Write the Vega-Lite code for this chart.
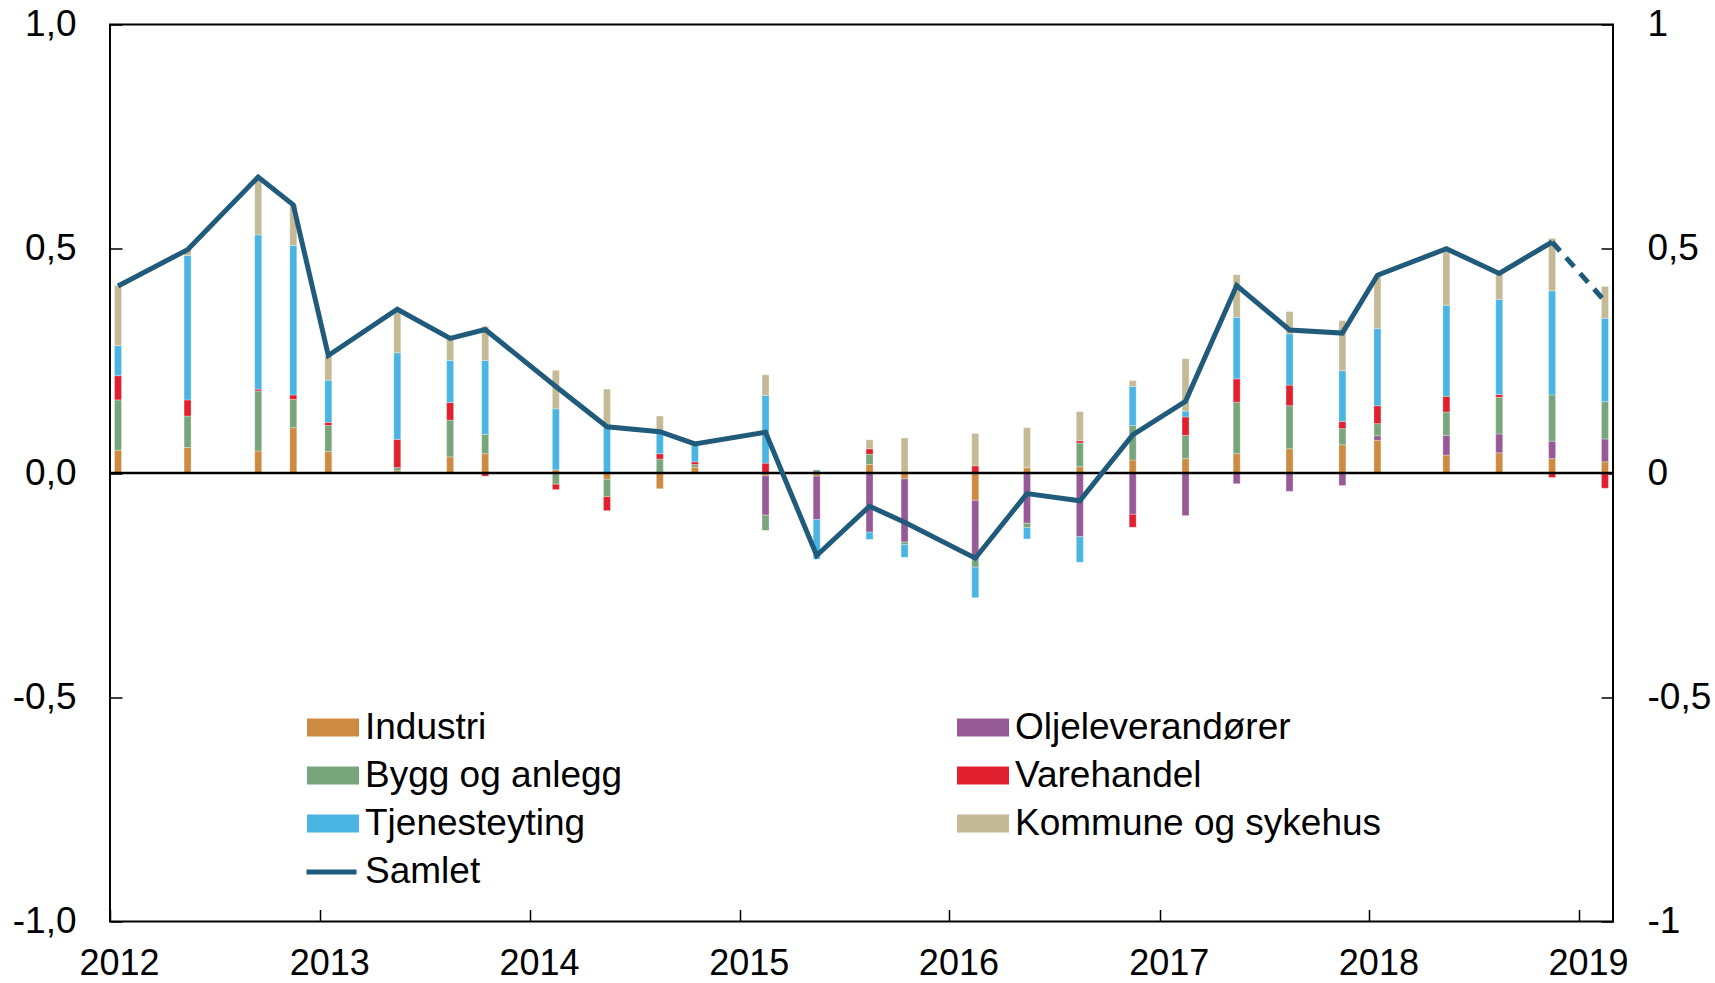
{
"$schema": "https://vega.github.io/schema/vega-lite/v6.json",
"width": 1503, "height": 897,
"autosize": "none",
"padding": {"left": 110, "top": 24.5, "right": 102, "bottom": 61.5},
"background": "white",
"config": {
  "view": {"stroke": "black", "strokeWidth": 2},
  "font": "Liberation Sans",
  "axis": {"domain": false, "grid": false, "tickColor": "black", "tickSize": -12, "tickWidth": 1.5, "labelFont": "Liberation Sans", "labelFontSize": 37, "labelColor": "black", "title": null, "labelFlush": false, "labelOverlap": false}
},
"datasets": {
"sektor": [
{"d":"2012-01-15","s":"Industri","v":0.051,"k":1},{"d":"2012-01-15","s":"Bygg og anlegg","v":0.112,"k":3},{"d":"2012-01-15","s":"Varehandel","v":0.054,"k":4},{"d":"2012-01-15","s":"Tjenesteyting","v":0.067,"k":5},{"d":"2012-01-15","s":"Kommune og sykehus","v":0.134,"k":6},
{"d":"2012-05-15","s":"Industri","v":0.057,"k":1},{"d":"2012-05-15","s":"Bygg og anlegg","v":0.070,"k":3},{"d":"2012-05-15","s":"Varehandel","v":0.036,"k":4},{"d":"2012-05-15","s":"Tjenesteyting","v":0.322,"k":5},{"d":"2012-05-15","s":"Kommune og sykehus","v":0.013,"k":6},
{"d":"2012-09-15","s":"Industri","v":0.049,"k":1},{"d":"2012-09-15","s":"Bygg og anlegg","v":0.134,"k":3},{"d":"2012-09-15","s":"Varehandel","v":0.004,"k":4},{"d":"2012-09-15","s":"Tjenesteyting","v":0.344,"k":5},{"d":"2012-09-15","s":"Kommune og sykehus","v":0.128,"k":6},
{"d":"2012-11-15","s":"Industri","v":0.101,"k":1},{"d":"2012-11-15","s":"Bygg og anlegg","v":0.063,"k":3},{"d":"2012-11-15","s":"Varehandel","v":0.010,"k":4},{"d":"2012-11-15","s":"Tjenesteyting","v":0.333,"k":5},{"d":"2012-11-15","s":"Kommune og sykehus","v":0.091,"k":6},
{"d":"2013-01-15","s":"Industri","v":0.048,"k":1},{"d":"2013-01-15","s":"Bygg og anlegg","v":0.058,"k":3},{"d":"2013-01-15","s":"Varehandel","v":0.007,"k":4},{"d":"2013-01-15","s":"Tjenesteyting","v":0.094,"k":5},{"d":"2013-01-15","s":"Kommune og sykehus","v":0.055,"k":6},
{"d":"2013-05-15","s":"Industri","v":0.005,"k":1},{"d":"2013-05-15","s":"Bygg og anlegg","v":0.007,"k":3},{"d":"2013-05-15","s":"Varehandel","v":0.063,"k":4},{"d":"2013-05-15","s":"Tjenesteyting","v":0.193,"k":5},{"d":"2013-05-15","s":"Kommune og sykehus","v":0.097,"k":6},
{"d":"2013-08-15","s":"Industri","v":0.036,"k":1},{"d":"2013-08-15","s":"Bygg og anlegg","v":0.082,"k":3},{"d":"2013-08-15","s":"Varehandel","v":0.039,"k":4},{"d":"2013-08-15","s":"Tjenesteyting","v":0.094,"k":5},{"d":"2013-08-15","s":"Kommune og sykehus","v":0.048,"k":6},
{"d":"2013-10-15","s":"Industri","v":0.043,"k":1},{"d":"2013-10-15","s":"Bygg og anlegg","v":0.043,"k":3},{"d":"2013-10-15","s":"Varehandel","v":-0.007,"k":4},{"d":"2013-10-15","s":"Tjenesteyting","v":0.165,"k":5},{"d":"2013-10-15","s":"Kommune og sykehus","v":0.076,"k":6},
{"d":"2014-02-15","s":"Industri","v":0.007,"k":1},{"d":"2014-02-15","s":"Bygg og anlegg","v":-0.025,"k":3},{"d":"2014-02-15","s":"Varehandel","v":-0.012,"k":4},{"d":"2014-02-15","s":"Tjenesteyting","v":0.136,"k":5},{"d":"2014-02-15","s":"Kommune og sykehus","v":0.086,"k":6},
{"d":"2014-05-15","s":"Industri","v":-0.014,"k":1},{"d":"2014-05-15","s":"Bygg og anlegg","v":-0.039,"k":3},{"d":"2014-05-15","s":"Varehandel","v":-0.031,"k":4},{"d":"2014-05-15","s":"Tjenesteyting","v":0.107,"k":5},{"d":"2014-05-15","s":"Kommune og sykehus","v":0.080,"k":6},
{"d":"2014-08-15","s":"Industri","v":-0.035,"k":1},{"d":"2014-08-15","s":"Bygg og anlegg","v":0.031,"k":3},{"d":"2014-08-15","s":"Varehandel","v":0.012,"k":4},{"d":"2014-08-15","s":"Tjenesteyting","v":0.051,"k":5},{"d":"2014-08-15","s":"Kommune og sykehus","v":0.033,"k":6},
{"d":"2014-10-15","s":"Industri","v":0.013,"k":1},{"d":"2014-10-15","s":"Bygg og anlegg","v":0.006,"k":3},{"d":"2014-10-15","s":"Varehandel","v":0.006,"k":4},{"d":"2014-10-15","s":"Tjenesteyting","v":0.040,"k":5},
{"d":"2015-02-15","s":"Industri","v":-0.006,"k":1},{"d":"2015-02-15","s":"Oljeleverandører","v":-0.088,"k":2},{"d":"2015-02-15","s":"Bygg og anlegg","v":-0.034,"k":3},{"d":"2015-02-15","s":"Varehandel","v":0.022,"k":4},{"d":"2015-02-15","s":"Tjenesteyting","v":0.151,"k":5},{"d":"2015-02-15","s":"Kommune og sykehus","v":0.046,"k":6},
{"d":"2015-05-15","s":"Industri","v":-0.007,"k":1},{"d":"2015-05-15","s":"Oljeleverandører","v":-0.097,"k":2},{"d":"2015-05-15","s":"Bygg og anlegg","v":0.007,"k":3},{"d":"2015-05-15","s":"Tjenesteyting","v":-0.088,"k":5},
{"d":"2015-08-15","s":"Industri","v":0.019,"k":1},{"d":"2015-08-15","s":"Oljeleverandører","v":-0.132,"k":2},{"d":"2015-08-15","s":"Bygg og anlegg","v":0.023,"k":3},{"d":"2015-08-15","s":"Varehandel","v":0.012,"k":4},{"d":"2015-08-15","s":"Tjenesteyting","v":-0.016,"k":5},{"d":"2015-08-15","s":"Kommune og sykehus","v":0.020,"k":6},
{"d":"2015-10-15","s":"Industri","v":-0.013,"k":1},{"d":"2015-10-15","s":"Oljeleverandører","v":-0.141,"k":2},{"d":"2015-10-15","s":"Bygg og anlegg","v":-0.006,"k":3},{"d":"2015-10-15","s":"Tjenesteyting","v":-0.028,"k":5},{"d":"2015-10-15","s":"Kommune og sykehus","v":0.078,"k":6},
{"d":"2016-02-15","s":"Industri","v":-0.061,"k":1},{"d":"2016-02-15","s":"Oljeleverandører","v":-0.133,"k":2},{"d":"2016-02-15","s":"Bygg og anlegg","v":-0.016,"k":3},{"d":"2016-02-15","s":"Varehandel","v":0.016,"k":4},{"d":"2016-02-15","s":"Tjenesteyting","v":-0.068,"k":5},{"d":"2016-02-15","s":"Kommune og sykehus","v":0.072,"k":6},
{"d":"2016-05-15","s":"Industri","v":0.012,"k":1},{"d":"2016-05-15","s":"Oljeleverandører","v":-0.112,"k":2},{"d":"2016-05-15","s":"Bygg og anlegg","v":-0.010,"k":3},{"d":"2016-05-15","s":"Tjenesteyting","v":-0.025,"k":5},{"d":"2016-05-15","s":"Kommune og sykehus","v":0.089,"k":6},
{"d":"2016-08-15","s":"Industri","v":0.014,"k":1},{"d":"2016-08-15","s":"Oljeleverandører","v":-0.142,"k":2},{"d":"2016-08-15","s":"Bygg og anlegg","v":0.053,"k":3},{"d":"2016-08-15","s":"Varehandel","v":0.005,"k":4},{"d":"2016-08-15","s":"Tjenesteyting","v":-0.057,"k":5},{"d":"2016-08-15","s":"Kommune og sykehus","v":0.065,"k":6},
{"d":"2016-11-15","s":"Industri","v":0.029,"k":1},{"d":"2016-11-15","s":"Oljeleverandører","v":-0.092,"k":2},{"d":"2016-11-15","s":"Bygg og anlegg","v":0.077,"k":3},{"d":"2016-11-15","s":"Varehandel","v":-0.029,"k":4},{"d":"2016-11-15","s":"Tjenesteyting","v":0.087,"k":5},{"d":"2016-11-15","s":"Kommune og sykehus","v":0.013,"k":6},
{"d":"2017-02-15","s":"Industri","v":0.032,"k":1},{"d":"2017-02-15","s":"Oljeleverandører","v":-0.095,"k":2},{"d":"2017-02-15","s":"Bygg og anlegg","v":0.052,"k":3},{"d":"2017-02-15","s":"Varehandel","v":0.041,"k":4},{"d":"2017-02-15","s":"Tjenesteyting","v":0.013,"k":5},{"d":"2017-02-15","s":"Kommune og sykehus","v":0.117,"k":6},
{"d":"2017-05-15","s":"Industri","v":0.043,"k":1},{"d":"2017-05-15","s":"Oljeleverandører","v":-0.024,"k":2},{"d":"2017-05-15","s":"Bygg og anlegg","v":0.115,"k":3},{"d":"2017-05-15","s":"Varehandel","v":0.052,"k":4},{"d":"2017-05-15","s":"Tjenesteyting","v":0.137,"k":5},{"d":"2017-05-15","s":"Kommune og sykehus","v":0.095,"k":6},
{"d":"2017-08-15","s":"Industri","v":0.054,"k":1},{"d":"2017-08-15","s":"Oljeleverandører","v":-0.041,"k":2},{"d":"2017-08-15","s":"Bygg og anlegg","v":0.096,"k":3},{"d":"2017-08-15","s":"Varehandel","v":0.046,"k":4},{"d":"2017-08-15","s":"Tjenesteyting","v":0.114,"k":5},{"d":"2017-08-15","s":"Kommune og sykehus","v":0.050,"k":6},
{"d":"2017-11-15","s":"Industri","v":0.063,"k":1},{"d":"2017-11-15","s":"Oljeleverandører","v":-0.028,"k":2},{"d":"2017-11-15","s":"Bygg og anlegg","v":0.036,"k":3},{"d":"2017-11-15","s":"Varehandel","v":0.016,"k":4},{"d":"2017-11-15","s":"Tjenesteyting","v":0.113,"k":5},{"d":"2017-11-15","s":"Kommune og sykehus","v":0.112,"k":6},
{"d":"2018-01-15","s":"Industri","v":0.073,"k":1},{"d":"2018-01-15","s":"Oljeleverandører","v":0.010,"k":2},{"d":"2018-01-15","s":"Bygg og anlegg","v":0.027,"k":3},{"d":"2018-01-15","s":"Varehandel","v":0.040,"k":4},{"d":"2018-01-15","s":"Tjenesteyting","v":0.172,"k":5},{"d":"2018-01-15","s":"Kommune og sykehus","v":0.119,"k":6},
{"d":"2018-05-15","s":"Industri","v":0.040,"k":1},{"d":"2018-05-15","s":"Oljeleverandører","v":0.044,"k":2},{"d":"2018-05-15","s":"Bygg og anlegg","v":0.052,"k":3},{"d":"2018-05-15","s":"Varehandel","v":0.035,"k":4},{"d":"2018-05-15","s":"Tjenesteyting","v":0.203,"k":5},{"d":"2018-05-15","s":"Kommune og sykehus","v":0.124,"k":6},
{"d":"2018-08-15","s":"Industri","v":0.045,"k":1},{"d":"2018-08-15","s":"Oljeleverandører","v":0.042,"k":2},{"d":"2018-08-15","s":"Bygg og anlegg","v":0.082,"k":3},{"d":"2018-08-15","s":"Varehandel","v":0.006,"k":4},{"d":"2018-08-15","s":"Tjenesteyting","v":0.212,"k":5},{"d":"2018-08-15","s":"Kommune og sykehus","v":0.057,"k":6},
{"d":"2018-11-15","s":"Industri","v":0.032,"k":1},{"d":"2018-11-15","s":"Oljeleverandører","v":0.039,"k":2},{"d":"2018-11-15","s":"Bygg og anlegg","v":0.103,"k":3},{"d":"2018-11-15","s":"Varehandel","v":-0.010,"k":4},{"d":"2018-11-15","s":"Tjenesteyting","v":0.232,"k":5},{"d":"2018-11-15","s":"Kommune og sykehus","v":0.117,"k":6},
{"d":"2019-02-15","s":"Industri","v":0.025,"k":1},{"d":"2019-02-15","s":"Oljeleverandører","v":0.051,"k":2},{"d":"2019-02-15","s":"Bygg og anlegg","v":0.083,"k":3},{"d":"2019-02-15","s":"Varehandel","v":-0.034,"k":4},{"d":"2019-02-15","s":"Tjenesteyting","v":0.186,"k":5},{"d":"2019-02-15","s":"Kommune og sykehus","v":0.071,"k":6}
],
"samlet": [
{"n":1,"d":"2012-01-15","v":0.417},{"n":2,"d":"2012-05-15","v":0.498},{"n":3,"d":"2012-09-15","v":0.660},{"n":4,"d":"2012-11-15","v":0.598},
{"n":5,"d":"2013-01-15","v":0.262},{"n":6,"d":"2013-05-15","v":0.365},{"n":7,"d":"2013-08-15","v":0.300},{"n":8,"d":"2013-10-15","v":0.320},
{"n":9,"d":"2014-02-15","v":0.193},{"n":10,"d":"2014-05-15","v":0.103},{"n":11,"d":"2014-08-15","v":0.092},{"n":12,"d":"2014-10-15","v":0.065},
{"n":13,"d":"2015-02-15","v":0.091},{"n":14,"d":"2015-05-15","v":-0.184},{"n":15,"d":"2015-08-15","v":-0.074},{"n":16,"d":"2015-10-15","v":-0.110},
{"n":17,"d":"2016-02-15","v":-0.190},{"n":18,"d":"2016-05-15","v":-0.046},{"n":19,"d":"2016-08-15","v":-0.062},{"n":20,"d":"2016-11-15","v":0.085},
{"n":21,"d":"2017-02-15","v":0.160},{"n":22,"d":"2017-05-15","v":0.418},{"n":23,"d":"2017-08-15","v":0.319},{"n":24,"d":"2017-11-15","v":0.312},
{"n":25,"d":"2018-01-15","v":0.441},{"n":26,"d":"2018-05-15","v":0.500},{"n":27,"d":"2018-08-15","v":0.445},{"n":28,"d":"2018-11-15","v":0.515},
{"n":29,"d":"2019-02-15","v":0.383}
]
},
"layer": [
{
  "data": {"name": "sektor"},
  "mark": {"type": "bar", "size": 7, "stroke": "white", "strokeWidth": 0.5, "strokeOpacity": 0.6},
  "encoding": {
    "x": {"field": "d", "type": "temporal",
      "scale": {"type": "utc", "padding": 0, "domain": [{"year": 2012, "month": 1, "date": 1, "utc": true}, {"year": 2019, "month": 3, "date": 1, "utc": true}]},
      "axis": {"values": [{"year": 2012, "month": 1, "date": 1, "utc": true},{"year": 2013, "month": 1, "date": 1, "utc": true},{"year": 2014, "month": 1, "date": 1, "utc": true},{"year": 2015, "month": 1, "date": 1, "utc": true},{"year": 2016, "month": 1, "date": 1, "utc": true},{"year": 2017, "month": 1, "date": 1, "utc": true},{"year": 2018, "month": 1, "date": 1, "utc": true},{"year": 2019, "month": 1, "date": 1, "utc": true}],
        "format": "%Y", "labelOffset": 9, "labelPadding": 37, "labelFontSize": 36}},
    "y": {"field": "v", "type": "quantitative", "stack": "zero",
      "scale": {"domain": [-1, 1], "nice": false, "zero": false},
      "axis": {"orient": "left", "values": [-1, -0.5, 0, 0.5, 1], "labelPadding": 46,
        "labelExpr": "(datum.value < 0 ? '-' : '') + replace(format(abs(datum.value), '.1f'), '.', ',')"}},
    "color": {"field": "s", "type": "nominal",
      "scale": {"domain": ["Industri", "Oljeleverandører", "Bygg og anlegg", "Varehandel", "Tjenesteyting", "Kommune og sykehus"],
                "range": ["#cd8b41", "#965b97", "#78a57b", "#e0202f", "#4ab4e2", "#c4ba96"]},
      "legend": {"orient": "none", "legendX": 197, "legendY": 677, "columns": 2, "direction": "horizontal", "title": null,
        "symbolType": "M-1,-0.35H1V0.35H-1Z", "symbolSize": 2704, "symbolStrokeWidth": 0, "symbolOpacity": 1,
        "labelFont": "Liberation Sans", "labelFontSize": 37, "labelColor": "black", "labelOffset": 6, "labelLimit": 0,
        "rowPadding": 4, "columnPadding": 334, "gridAlign": "each", "padding": 0}},
    "order": {"field": "k", "type": "quantitative", "sort": "ascending"}
  }
},
{
  "data": {"values": [{}]},
  "mark": {"type": "rule", "color": "black", "strokeWidth": 2.5},
  "encoding": {
    "y": {"datum": 0, "type": "quantitative", "scale": {"domain": [-1, 1], "nice": false, "zero": false},
      "axis": {"orient": "right", "values": [-1, -0.5, 0, 0.5, 1], "labelPadding": 46,
        "labelExpr": "(datum.value < 0 ? '-' : '') + replace(format(abs(datum.value), '~g'), '.', ',')"}}
  }
},
{
  "data": {"name": "samlet"},
  "transform": [{"filter": "datum.n <= 28"}],
  "mark": {"type": "line", "strokeWidth": 5, "strokeJoin": "miter"},
  "encoding": {
    "x": {"field": "d", "type": "temporal"},
    "y": {"field": "v", "type": "quantitative", "scale": {"domain": [-1, 1], "nice": false, "zero": false}, "axis": null},
    "stroke": {"datum": "Samlet", "type": "nominal", "scale": {"domain": ["Samlet"], "range": ["#215b7b"]},
      "legend": {"orient": "none", "legendX": 194, "legendY": 820, "title": null, "symbolType": "stroke", "symbolSize": 2500, "symbolStrokeWidth": 5, "symbolDash": [100, 0],
        "labelFont": "Liberation Sans", "labelFontSize": 37, "labelColor": "black", "labelOffset": 6, "labelLimit": 0, "padding": 0}}
  }
},
{
  "data": {"name": "samlet"},
  "transform": [{"filter": "datum.n >= 28"}],
  "mark": {"type": "line", "strokeWidth": 5, "strokeDash": [12, 9]},
  "encoding": {
    "x": {"field": "d", "type": "temporal"},
    "y": {"field": "v", "type": "quantitative", "scale": {"domain": [-1, 1], "nice": false, "zero": false}, "axis": null},
    "stroke": {"datum": "Samlet", "type": "nominal"}
  }
}
],
"resolve": {"axis": {"y": "independent"}}
}
